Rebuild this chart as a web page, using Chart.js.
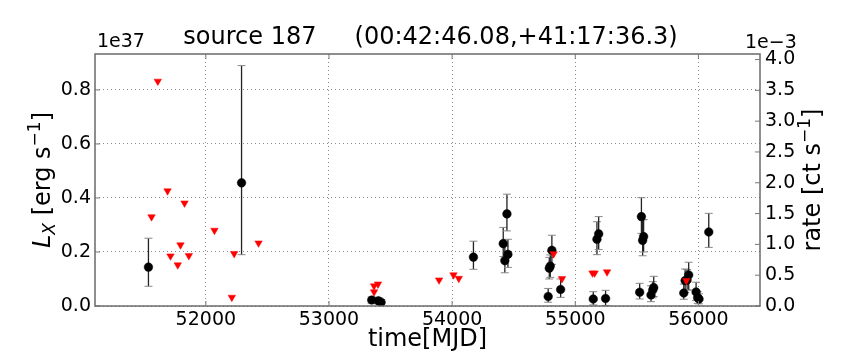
<!DOCTYPE html>
<html><head><meta charset="utf-8">
<script src="https://cdn.jsdelivr.net/npm/chart.js@4/dist/chart.umd.min.js"></script>
<style>html,body{margin:0;padding:0;background:#fff}</style>
</head><body>
<canvas id="c" width="864" height="360" style="width:864px;height:360px;display:block"></canvas>
<script>
// detections: MJD, luminosity (1e37 erg/s), error bar low/high
const detMjd = [51534,52290,53347,53401,53423,54173,54415,54428,54445,54453,54780,54789,54797,54810,54881,55146,55176,55190,55246,55523,55537,55547,55555,55615,55629,55637,55881,55892,55908,55921,55981,55994,56005,56084];
const detL   = [0.144,0.456,0.022,0.019,0.014,0.181,0.231,0.168,0.341,0.191,0.035,0.140,0.148,0.206,0.061,0.026,0.247,0.267,0.028,0.051,0.331,0.243,0.257,0.041,0.059,0.068,0.048,0.094,0.096,0.115,0.052,0.031,0.026,0.274];
const detLo  = [0.073,0.190,0.010,0.008,0.004,0.136,0.183,0.123,0.278,0.143,0.014,0.100,0.106,0.154,0.032,0.004,0.190,0.209,0.002,0.026,0.269,0.186,0.200,0.016,0.030,0.035,0.025,0.050,0.060,0.059,0.020,0.010,0.008,0.217];
const detHi  = [0.251,0.890,0.034,0.030,0.024,0.240,0.291,0.222,0.414,0.247,0.065,0.180,0.189,0.262,0.100,0.053,0.312,0.331,0.058,0.084,0.401,0.319,0.320,0.075,0.090,0.110,0.081,0.137,0.135,0.162,0.088,0.053,0.045,0.343];
// upper limits
const ulMjd = [51559,51610,51689,51713,51772,51794,51827,51862,52070,52211,52230,52428,53366,53398,53366,53894,54011,54054,54824,54892,55140,55157,55258,55902];
const ulL   = [0.330,0.832,0.426,0.185,0.152,0.226,0.381,0.186,0.280,0.032,0.194,0.233,0.074,0.081,0.052,0.096,0.115,0.102,0.193,0.101,0.122,0.122,0.126,0.094];
// ticks
const xTicks = [52000,53000,54000,55000,56000];
const yTicks = [0.0,0.2,0.4,0.6,0.8];
const y2Ticks = [0.0,0.5,1.0,1.5,2.0,2.5,3.0,3.5,4.0];
const titleText = 'source 187     (00:42:46.08,+41:17:36.3)';

const FONT = "'DejaVu Sans', sans-serif";

const errPlugin = {
  id: 'errbars',
  beforeDatasetsDraw(chart) {
    const ctx = chart.ctx, xs = chart.scales.x, ys = chart.scales.y;
    ctx.save();
    for (let i = 0; i < detMjd.length; i++) {
      const px = xs.getPixelForValue(detMjd[i]);
      const pl = ys.getPixelForValue(detLo[i]);
      const ph = ys.getPixelForValue(detHi[i]);
      ctx.strokeStyle = '#222'; ctx.lineWidth = 1.3;
      ctx.beginPath(); ctx.moveTo(px, pl); ctx.lineTo(px, ph); ctx.stroke();
      ctx.strokeStyle = '#888'; ctx.lineWidth = 1;
      ctx.beginPath();
      ctx.moveTo(px - 4, pl); ctx.lineTo(px + 4, pl);
      ctx.moveTo(px - 4, ph); ctx.lineTo(px + 4, ph);
      ctx.stroke();
    }
    ctx.restore();
  }
};

function drawRich(ctx, parts, cx, cy) {
  let total = 0;
  parts.forEach(p => { ctx.font = p[1]; total += ctx.measureText(p[0]).width; });
  let x = cx - total / 2;
  parts.forEach(p => {
    ctx.font = p[1];
    ctx.fillText(p[0], x, cy + p[2]);
    x += ctx.measureText(p[0]).width;
  });
}

const decorPlugin = {
  id: 'decor',
  afterDraw(chart) {
    const ctx = chart.ctx, a = chart.chartArea;
    ctx.save();
    // frame
    ctx.strokeStyle = '#6a6a6a'; ctx.lineWidth = 1.5;
    ctx.strokeRect(a.left, a.top, a.right - a.left, a.bottom - a.top);
    // inward ticks
    const y2 = chart.scales.y1, y1 = chart.scales.y, xs = chart.scales.x;
    ctx.lineWidth = 1; ctx.strokeStyle = '#777';
    ctx.beginPath();
    y2Ticks.forEach(v => {
      const py = y2.getPixelForValue(v);
      ctx.moveTo(a.right, py); ctx.lineTo(a.right - 5, py);
    });
    yTicks.forEach(v => {
      const py = y1.getPixelForValue(v);
      ctx.moveTo(a.left, py); ctx.lineTo(a.left + 5, py);
    });
    xTicks.forEach(v => {
      const px = xs.getPixelForValue(v);
      ctx.moveTo(px, a.top); ctx.lineTo(px, a.top + 5);
      ctx.moveTo(px, a.bottom); ctx.lineTo(px, a.bottom - 5);
    });
    ctx.stroke();
    ctx.fillStyle = '#000';
    ctx.textBaseline = 'middle';
    // title
    ctx.textAlign = 'center';
    ctx.font = '24px ' + FONT;
    ctx.fillText(titleText, (a.left + a.right) / 2 + 3, 38);
    // offsets
    ctx.textAlign = 'left';
    ctx.font = '19px ' + FONT;
    ctx.fillText('1e37', a.left + 2, 42);
    ctx.fillText('1e\u22123', 745, 43);
    // x title
    ctx.textAlign = 'center';
    ctx.font = '24px ' + FONT;
    ctx.fillText('time[MJD]', (a.left + a.right) / 2, 340);
    // left title
    ctx.textAlign = 'left';
    ctx.textBaseline = 'alphabetic';
    ctx.save();
    ctx.translate(50, (a.top + a.bottom) / 2);
    ctx.rotate(-Math.PI / 2);
    drawRich(ctx, [
      ['L', 'italic 24px ' + FONT, 0],
      ['X', 'italic 17px ' + FONT, 5],
      [' [erg s', '24px ' + FONT, 0],
      ['\u22121', '17px ' + FONT, -10],
      [']', '24px ' + FONT, 0]
    ], 0, 0);
    ctx.restore();
    // right title
    ctx.save();
    ctx.translate(820, (a.top + a.bottom) / 2);
    ctx.rotate(-Math.PI / 2);
    drawRich(ctx, [
      ['rate [ct s', '24px ' + FONT, 0],
      ['\u22121', '17px ' + FONT, -10],
      [']', '24px ' + FONT, 0]
    ], 0, 0);
    ctx.restore();
    ctx.restore();
  }
};

new Chart(document.getElementById('c'), {
  type: 'scatter',
  data: {
    datasets: [
      {
        label: 'upper limits',
        data: ulMjd.map((m, i) => ({x: m, y: ulL[i]})),
        pointStyle: 'triangle', rotation: 180,
        pointRadius: 4.3, pointBackgroundColor: '#ff0000', pointBorderColor: '#ff0000', pointBorderWidth: 0.5,
        yAxisID: 'y'
      },
      {
        label: 'detections',
        data: detMjd.map((m, i) => ({x: m, y: detL[i]})),
        pointStyle: 'circle', pointRadius: 4.3,
        pointBackgroundColor: '#000', pointBorderColor: '#000', pointBorderWidth: 0.5,
        yAxisID: 'y'
      },
      { label: 'rate', data: [], yAxisID: 'y1', pointRadius: 0 }
    ]
  },
  options: {
    responsive: false,
    animation: false,
    devicePixelRatio: 1,
    layout: { padding: { top: 54, left: 0, right: 0, bottom: 0 } },
    plugins: { legend: { display: false }, tooltip: { enabled: false }, title: { display: false } },
    scales: {
      x: {
        type: 'linear', position: 'bottom', min: 51100, max: 56500,
        afterBuildTicks: s => { s.ticks = xTicks.map(v => ({value: v})); },
        afterFit: s => { s.height = 54; },
        ticks: { callback: v => String(v), font: { family: FONT, size: 19 }, color: '#000', padding: 3, maxRotation: 0 },
        grid: { color: '#8a8a8a', lineWidth: 1, drawTicks: false },
        border: { display: false, dash: [1, 3] }
      },
      y: {
        type: 'linear', position: 'left', min: 0, max: 0.933,
        afterBuildTicks: s => { s.ticks = yTicks.map(v => ({value: v})); },
        afterFit: s => { s.width = 95; },
        ticks: { callback: v => v.toFixed(1), font: { family: FONT, size: 19 }, color: '#000', padding: 4 },
        grid: { color: '#8a8a8a', lineWidth: 1, drawTicks: false },
        border: { display: false, dash: [1, 3] }
      },
      y1: {
        type: 'linear', position: 'right', min: 0, max: 4.09,
        afterBuildTicks: s => { s.ticks = y2Ticks.map(v => ({value: v})); },
        afterFit: s => { s.width = 104; },
        ticks: { callback: v => v.toFixed(1), font: { family: FONT, size: 19 }, color: '#000', padding: 5 },
        grid: { display: false, drawTicks: false },
        border: { display: false }
      }
    }
  },
  plugins: [errPlugin, decorPlugin]
});
</script>
</body></html>
